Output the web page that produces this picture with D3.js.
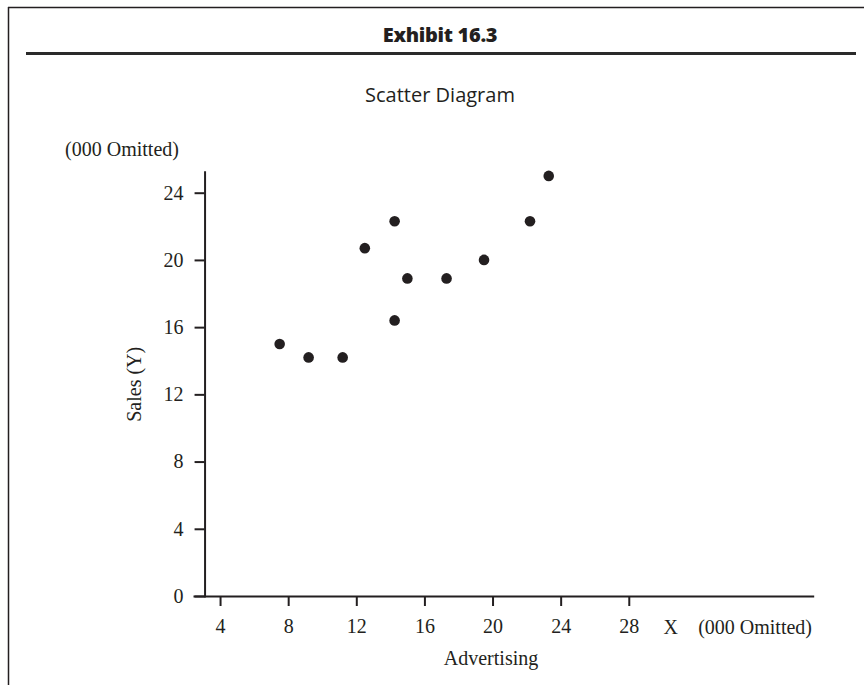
<!DOCTYPE html>
<html>
<head>
<meta charset="utf-8">
<script src="https://cdn.jsdelivr.net/npm/d3@7"></script>
<style>
  html, body { margin: 0; padding: 0; background: #fff; }
  svg { display: block; }
  .serif { font-family: 'Liberation Serif', 'DejaVu Serif', serif; fill: #231f20; }
  .sans { font-family: 'Open Sans', 'Noto Sans', sans-serif; fill: #231f20; }
  .axis path, .axis line { stroke: #231f20; stroke-width: 2; }
  .axis text { font-family: 'Liberation Serif', serif; font-size: 20px; fill: #231f20; }
</style>
</head>
<body>
<script>
// Advertising (X) and sales (Y), both in thousands
var advertising = [7.5, 9.2, 11.2, 12.5, 14.25, 14.25, 15.0, 17.3, 19.5, 22.2, 23.3];
var sales = [15.0, 14.2, 14.2, 20.7, 22.3, 16.4, 18.9, 18.9, 20.0, 22.3, 25.0];

var xTicks = [4, 8, 12, 16, 20, 24, 28];
var yTicks = [0, 4, 8, 12, 16, 20, 24];

var width = 864,
  height = 685,
  ink = '#231f20';

var svg = d3.select('body').append('svg')
  .attr('width', width)
  .attr('height', height);

/**
 * Draws the exhibit frame: thin top and left border, heavy rule under title.
 */
function drawFrame() {
  svg.append('line')
    .attr('x1', 8).attr('x2', width)
    .attr('y1', 7.5).attr('y2', 7.5)
    .attr('stroke', ink).attr('stroke-width', 1.5);

  svg.append('line')
    .attr('x1', 8.5).attr('x2', 8.5)
    .attr('y1', 7).attr('y2', height)
    .attr('stroke', ink).attr('stroke-width', 1.5);

  svg.append('line')
    .attr('x1', 26).attr('x2', 856)
    .attr('y1', 53.5).attr('y2', 53.5)
    .attr('stroke', '#2a2a2a').attr('stroke-width', 3);

  svg.append('text')
    .attr('class', 'sans')
    .attr('x', 440).attr('y', 42)
    .attr('text-anchor', 'middle')
    .style('font-size', '20px')
    .style('font-weight', 800)
    .style('letter-spacing', '-0.3px')
    .text('Exhibit 16.3');

  svg.append('text')
    .attr('class', 'sans')
    .attr('x', 440).attr('y', 102)
    .attr('text-anchor', 'middle')
    .style('font-size', '20px')
    .text('Scatter Diagram');
}

/**
 * Draws axes, axis labels and the scatter points.
 */
function drawScatter() {
  // x: 2.5 .. 38.8 spans the drawn axis line; y: 0 .. 25.25 the vertical one
  var x = d3.scaleLinear().domain([2.47, 38.8]).range([194, 812.7]);
  var y = d3.scaleLinear().domain([0, 25.25]).range([596, 171.7]);

  var xAxis = d3.axisBottom(x)
    .tickValues(xTicks)
    .tickSize(10)
    .tickSizeOuter(0)
    .tickPadding(13);

  var yAxis = d3.axisLeft(y)
    .tickValues(yTicks)
    .tickSize(10)
    .tickSizeOuter(0)
    .tickPadding(11);

  svg.append('g')
    .attr('class', 'axis')
    .attr('transform', 'translate(' + x(3.09) + ',0)')
    .call(yAxis);

  svg.append('g')
    .attr('class', 'axis')
    .attr('transform', 'translate(0,' + y(0) + ')')
    .call(xAxis);

  svg.selectAll('.axis .domain').attr('stroke-linecap', 'square');

  // Axis captions
  svg.append('text')
    .attr('class', 'serif')
    .attr('x', 122).attr('y', 156)
    .attr('text-anchor', 'middle')
    .style('font-size', '20px')
    .text('(000 Omitted)');

  svg.append('text')
    .attr('class', 'serif')
    .attr('transform', 'translate(141,' + y(12.6) + ') rotate(-90)')
    .attr('text-anchor', 'middle')
    .style('font-size', '20px')
    .text('Sales (Y)');

  svg.append('text')
    .attr('class', 'serif')
    .attr('x', x(28) + 42).attr('y', y(0) + 38)
    .attr('text-anchor', 'middle')
    .style('font-size', '20px')
    .text('X');

  svg.append('text')
    .attr('class', 'serif')
    .attr('x', 812).attr('y', y(0) + 38)
    .attr('text-anchor', 'end')
    .style('font-size', '20px')
    .text('(000 Omitted)');

  svg.append('text')
    .attr('class', 'serif')
    .attr('x', 491).attr('y', y(0) + 69)
    .attr('text-anchor', 'middle')
    .style('font-size', '20px')
    .text('Advertising');

  var points = advertising.map(function(d, i) {
    return {x: d, y: sales[i]};
  });

  svg.append('g')
    .selectAll('circle')
    .data(points)
    .enter()
    .append('circle')
    .attr('cx', function(d) { return x(d.x); })
    .attr('cy', function(d) { return y(d.y); })
    .attr('r', 5.3)
    .attr('fill', ink);
}

drawFrame();
drawScatter();
</script>
</body>
</html>
